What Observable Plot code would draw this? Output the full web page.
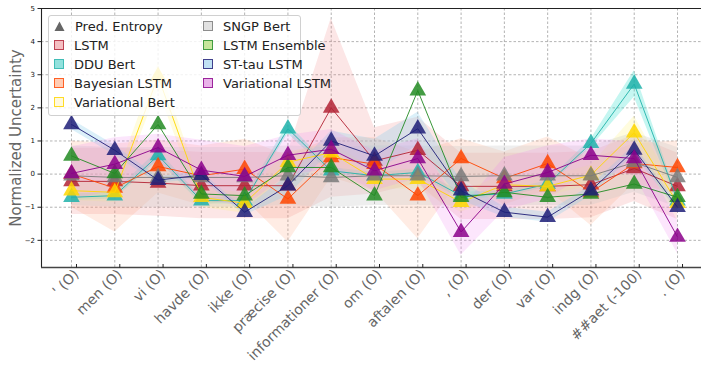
<!DOCTYPE html>
<html>
<head>
<meta charset="utf-8">
<script src="https://cdn.jsdelivr.net/npm/d3@7"></script>
<script src="https://cdn.jsdelivr.net/npm/@observablehq/plot@0.6"></script>
<style>
  html, body { margin: 0; padding: 0; background: #fff; }
  #wrap { position: relative; width: 701px; height: 371px; font-family: "DejaVu Sans", sans-serif; }
  #legend { position: absolute; left: 48px; top: 15px; width: 253px; height: 101px; background: rgba(255,255,255,0.82);
            border: 1px solid #d0d0d0; border-radius: 3px; box-sizing: border-box; }
  .item { position: absolute; height: 16px; display: flex; align-items: center; font-size: 13px; color: #222; white-space: nowrap; }
  .sw { width: 10px; height: 10px; margin-right: 10px; box-sizing: border-box; border: 1px solid; }
</style>
</head>
<body>
<div id="wrap"></div>
<script>
const labels = ["' (O)", "men (O)", "vi (O)", "havde (O)", "ikke (O)", "præcise (O)", "informationer (O)", "om (O)", "aftalen (O)", ", (O)", "der (O)", "var (O)", "indg (O)", "##aet (-100)", ". (O)"];
const yTicks = [-2, -1, 0, 1, 2, 3, 4, 5];

const seriesNames = ["LSTM", "DDU Bert", "Bayesian LSTM", "Variational Bert", "SNGP Bert", "LSTM Ensemble", "ST-tau LSTM", "Variational LSTM"];

// mean normalized uncertainty per token
const lstm     = [-0.22, -0.22, -0.27, -0.35, -0.35, -0.35, 2.0, 0.4, 0.72, -0.37, -0.37, -0.37, -0.32, 0.17, -0.37];
const ddu      = [-0.70, -0.65, 0.56, -0.8, -0.8, 1.37, 0.1, -0.05, 0.05, -0.65, -0.6, -0.3, 0.93, 2.72, -0.8];
const bayes    = [0.0, -0.42, 0.23, -0.05, 0.15, -0.75, 0.5, 0.3, -0.65, 0.47, -0.13, 0.32, -0.55, 0.32, 0.2];
const varBert  = [-0.5, -0.55, 2.95, -0.7, -0.88, 0.36, 0.65, -0.15, -0.15, -0.85, -0.32, -0.37, -0.03, 1.25, -0.88];
const sngp     = [-0.05, -0.1, -0.1, -0.1, -0.1, -0.05, -0.1, -0.05, -0.05, -0.07, -0.05, -0.05, -0.05, 0.35, -0.1];
const ensemble = [0.55, 0.02, 1.5, -0.6, -0.65, 0.2, 0.2, -0.65, 2.52, -0.7, -0.55, -0.7, -0.6, -0.3, -0.7];
const stTau    = [1.5, 0.72, -0.18, -0.03, -1.15, -0.35, 1.0, 0.55, 1.37, -0.5, -1.15, -1.3, -0.5, 0.73, -1.0];
const varLstm  = [0.02, 0.3, 0.8, 0.12, -0.07, 0.57, 0.75, 0.1, 0.47, -1.75, -0.3, 0.05, 0.57, 0.47, -1.9];

// spread (half-width of band) per token
const lstmSd     = [1.0, 1.0, 1.0, 1.0, 1.0, 1.0, 2.7, 1.0, 1.0, 1.0, 1.0, 1.0, 1.0, 1.0, 1.0];
const dduSd      = [0.1, 0.1, 0.15, 0.1, 0.1, 0.15, 0.1, 0.1, 0.1, 0.1, 0.1, 0.1, 0.12, 0.4, 0.1];
const bayesSd    = [1.0, 1.33, 0.8, 0.9, 0.9, 1.3, 0.6, 0.8, 1.3, 0.6, 0.8, 0.8, 1.0, 0.6, 0.8];
const varBertSd  = [0.3, 0.3, 0.4, 0.3, 0.3, 0.3, 0.3, 0.3, 0.3, 0.3, 0.3, 0.3, 0.3, 0.5, 0.3];
const sngpSd     = [0.9, 0.9, 0.9, 0.9, 0.9, 0.9, 0.9, 0.9, 0.9, 0.9, 0.9, 0.9, 0.9, 0.9, 0.9];
const ensembleSd = [0.15, 0.15, 0.3, 0.15, 0.15, 0.15, 0.15, 0.2, 1.4, 0.15, 0.15, 0.15, 0.15, 0.15, 0.15];
const stTauSd    = [0.15, 0.15, 0.1, 0.1, 0.1, 0.3, 0.3, 0.5, 0.5, 0.3, 0.15, 0.15, 0.15, 0.15, 0.1];
const varLstmSd  = [0.8, 0.8, 0.4, 0.9, 0.9, 0.6, 0.6, 0.6, 0.6, 0.7, 0.8, 0.8, 0.5, 0.5, 0.5];

const means = [lstm, ddu, bayes, varBert, sngp, ensemble, stTau, varLstm];
const sds = [lstmSd, dduSd, bayesSd, varBertSd, sngpSd, ensembleSd, stTauSd, varLstmSd];

const lineColors = ["#b22234", "#20b2aa", "#ff4500", "#ffd700", "#7a7a7a", "#228b22", "#1f1f78", "#8b008b"];
const bandColors = ["lightcoral", "turquoise", "lightsalmon", "#fff27a", "#c8c8c8", "yellowgreen", "skyblue", "violet"];
const bandOpacity = [0.2, 0.3, 0.2, 0.25, 0.3, 0.25, 0.3, 0.2];
const swFill = ["#f4b4b8", "#80dcd8", "#ffc4a8", "#fff8d8", "#dcdcdc", "#bde28a", "#b6dcf2", "#e6a6e6"];

const tables = means.map((m, s) => m.map((v, i) => ({i, mean: v, lo: v - sds[s][i], hi: v + sds[s][i]})));

const marks = [];
marks.push(Plot.gridY({ticks: yTicks, stroke: "#a0a0a0", strokeOpacity: 1, strokeDasharray: "2.5,2", strokeWidth: 0.8}));
marks.push(Plot.gridX({ticks: d3.range(15), stroke: "#a0a0a0", strokeOpacity: 1, strokeDasharray: "2.5,2", strokeWidth: 0.8}));
tables.forEach((t, s) => marks.push(Plot.areaY(t, {x: "i", y1: "lo", y2: "hi", fill: bandColors[s], fillOpacity: bandOpacity[s], curve: "linear", clip: true})));
tables.forEach((t, s) => {
  marks.push(Plot.lineY(t, {x: "i", y: "mean", stroke: lineColors[s], strokeWidth: 1, strokeOpacity: 0.9}));
  marks.push(Plot.dot(t, {x: "i", y: "mean", symbol: "triangle", r: 6.2, fill: lineColors[s], fillOpacity: 0.85, stroke: "none"}));
});
marks.push(Plot.ruleX([-0.693], {stroke: "#222", strokeWidth: 1.1}));
marks.push(Plot.ruleY([5], {stroke: "#222", strokeWidth: 1.1}));
marks.push(Plot.ruleY([-2.82], {stroke: "#444", strokeWidth: 1.5}));
marks.push(Plot.axisY({ticks: yTicks, fontSize: 7, tickSize: 3.5, tickPadding: 3, label: null, fill: "#111", stroke: "#222"}));
marks.push(Plot.axisX({ticks: d3.range(15), tickFormat: i => labels[i], tickRotate: -45, fontSize: 14, tickSize: 3.5, tickPadding: 4, dx: 5, dy: -3, label: null, fill: "#666", stroke: "#222"}));
marks.push(Plot.text([0], {frameAnchor: "left", text: () => "Normalized Uncertainty", rotate: -90, textAnchor: "middle", dx: -25, fontSize: 15, fill: "#666"}));

const chart = Plot.plot({
  width: 701,
  height: 371,
  marginLeft: 41,
  marginRight: 0,
  marginTop: 8,
  marginBottom: 104,
  style: {fontFamily: "DejaVu Sans, sans-serif", background: "#fff"},
  x: {type: "linear", domain: [-0.693, 14.554]},
  y: {domain: [-2.82, 5]},
  marks
});
const wrap = document.getElementById("wrap");
wrap.appendChild(chart);

// legend overlay
const legend = document.createElement("div");
legend.id = "legend";
const entries = [{name: "Pred. Entropy", tri: true}].concat(seriesNames.map((n, s) => ({name: n, s})));
const colPos = [[0, 0], [0, 1], [0, 2], [0, 3], [0, 4], [1, 0], [1, 1], [1, 2], [1, 3]];
entries.forEach((e, k) => {
  const [c, r] = colPos[k];
  const it = document.createElement("div");
  it.className = "item";
  it.style.left = (c ? 154 : 5) + "px";
  it.style.top = (2 + r * 19) + "px";
  if (e.tri) {
    it.innerHTML = `<svg width="11" height="11" style="margin-right:10px"><path d="M5.5,0.5 L10.5,10 L0.5,10 Z" fill="#666"/></svg>`;
  } else {
    it.innerHTML = `<span class="sw" style="background:${swFill[e.s]};border-color:${lineColors[e.s]};opacity:0.85"></span>`;
  }
  const tx = document.createElement("span");
  tx.textContent = e.name;
  it.appendChild(tx);
  legend.appendChild(it);
});
wrap.appendChild(legend);
</script>
</body>
</html>
